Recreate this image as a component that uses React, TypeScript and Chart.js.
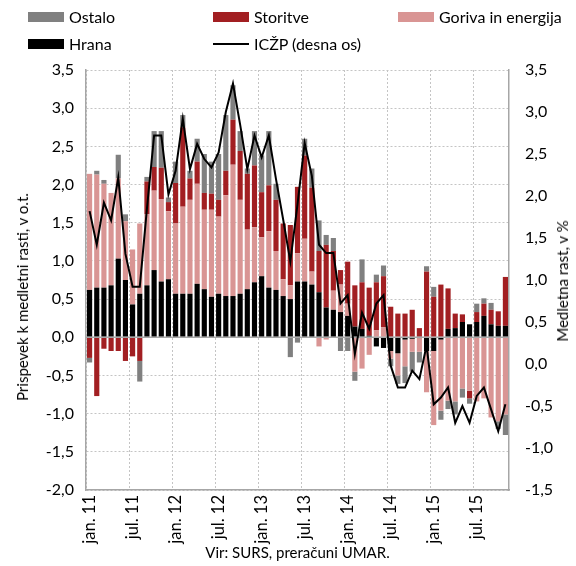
import React, { useEffect, useRef } from 'react';
import { Chart, registerables } from 'chart.js';
Chart.register(...registerables);

const categories = [
  'jan. 11','feb. 11','mar. 11','apr. 11','maj 11','jun. 11','jul. 11','avg. 11','sep. 11','okt. 11','nov. 11','dec. 11',
  'jan. 12','feb. 12','mar. 12','apr. 12','maj 12','jun. 12','jul. 12','avg. 12','sep. 12','okt. 12','nov. 12','dec. 12',
  'jan. 13','feb. 13','mar. 13','apr. 13','maj 13','jun. 13','jul. 13','avg. 13','sep. 13','okt. 13','nov. 13','dec. 13',
  'jan. 14','feb. 14','mar. 14','apr. 14','maj 14','jun. 14','jul. 14','avg. 14','sep. 14','okt. 14','nov. 14','dec. 14',
  'jan. 15','feb. 15','mar. 15','apr. 15','maj 15','jun. 15','jul. 15','avg. 15','sep. 15','okt. 15','nov. 15',
];

const hrana = [
  0.62, 0.65, 0.65, 0.68, 1.03, 0.75, 0.43, 0.57, 0.68, 0.88,
  0.73, 0.76, 0.57, 0.57, 0.57, 0.70, 0.63, 0.53, 0.57, 0.54,
  0.54, 0.57, 0.63, 0.72, 0.80, 0.65, 0.62, 0.54, 0.50, 0.73,
  0.73, 0.69, 0.59, 0.39, 0.36, 0.33, 0.28, 0.14, 0.11, 0.02,
  -0.12, -0.14, -0.18, -0.21, -0.03, -0.02, -0.01, -0.18, -0.18, -0.03,
  0.11, 0.12, 0.20, 0.17, 0.20, 0.28, 0.17, 0.15, 0.15,
];
const goriva = [
  1.52, 1.48, 1.36, 1.21, 1.05, 0.77, 0.72, 0.92, 0.93, 1.04,
  1.08, 0.89, 0.92, 1.14, 1.23, 1.31, 1.04, 1.14, 1.01, 1.32,
  1.72, 1.23, 0.78, 0.72, 0.51, 0.74, 0.51, 0.22, 0.18, 0.37,
  0.56, 0.17, -0.12, -0.03, 0.25, 0.36, 0.16, -0.45, -0.41, -0.23,
  0.09, 0.13, -0.10, -0.29, -0.35, -0.17, -0.18, -0.54, -0.97, -0.93,
  -0.83, -0.84, -0.67, -0.70, -0.84, -0.80, -1.05, -1.10, -1.01,
];
const storitve = [
  -0.27, -0.77, -0.15, -0.18, -0.18, -0.31, -0.25, -0.31, 0.43, 0.31,
  0.41, 0.12, 0.53, 1.04, 0.28, 0.29, 0.22, 0.21, 0.22, 0.32,
  0.59, 0.64, 0.73, 0.81, 0.59, 0.60, 0.67, 0.73, 0.79, 0.87,
  1.09, 1.10, 0.54, 0.82, 0.52, 0.19, 0.55, 0.54, 0.61, 0.63,
  0.63, 0.67, 0.40, 0.31, 0.31, 0.36, 0.12, 0.86, 0.53, 0.69,
  0.53, 0.19, 0.10, -0.10, 0.13, 0.16, 0.19, 0.19, 0.64,
];
const ostalo = [
  -0.06, 0.05, 0.05, 0, 0.31, 0.09, 0, -0.27, 0.06, 0.47,
  0.48, 0.06, 0.28, 0.16, 0.10, 0.30, 0.51, 0.42, 0.60, 0.73,
  0.45, 0.26, 0.07, 0.45, 0.48, 0.71, 0.21, 0, -0.26, -0.07,
  0.22, 0.25, 0.40, 0.13, 0.17, -0.18, -0.18, -0.12, 0.30, 0,
  0.10, 0.14, -0.10, -0.11, -0.22, -0.26, -0.14, 0.07, 0.13, -0.12,
  -0.11, -0.17, -0.12, -0.07, 0.11, 0.07, 0.09, -0.10, -0.27,
];
const iczp = [
  1.82, 1.42, 1.92, 1.71, 2.22, 1.31, 0.92, 0.92, 1.85, 2.72,
  2.72, 2.02, 2.30, 2.92, 2.32, 2.62, 2.44, 2.34, 2.52, 3.00,
  3.34, 2.85, 2.32, 2.72, 2.46, 2.72, 2.20, 1.72, 1.22, 1.90,
  2.63, 2.24, 1.42, 1.32, 1.32, 0.72, 0.82, 0.12, 0.61, 0.42,
  0.72, 0.82, -0.02, -0.28, -0.28, -0.08, -0.18, 0.22, -0.48, -0.40,
  -0.28, -0.70, -0.50, -0.70, -0.38, -0.28, -0.54, -0.80, -0.48,
];

const leftTitle = 'Prispevek k medletni rasti, v o.t.';
const rightTitle = 'Medletna rast, v %';
const sourceText = 'Vir: SURS, preračuni UMAR.';

const COLORS = {
  hrana: '#000000',
  goriva: '#d99594',
  storitve: '#a21f22',
  ostalo: '#808080',
};

const FONT = 'Lato, "Noto Sans", sans-serif';
const fmt = (v: number) => v.toFixed(1).replace('.', ',');

const zeroLine = {
  id: 'zeroLine',
  afterDatasetDraw(chart: any, args: any) {
    if (args.index !== 0) return;
    const y = chart.scales.y.getPixelForValue(0);
    const { left, right } = chart.chartArea;
    const ctx = chart.ctx;
    ctx.save();
    ctx.strokeStyle = '#a6a6a6';
    ctx.lineWidth = 1.5;
    ctx.beginPath();
    ctx.moveTo(left, y);
    ctx.lineTo(right, y);
    ctx.stroke();
    ctx.restore();
  },
};

function App() {
  const ref = useRef<HTMLCanvasElement>(null);
  useEffect(() => {
    if (!ref.current) return;
    const barDs = (label: string, data: number[], color: string) => ({
      type: 'bar' as const,
      label,
      data,
      backgroundColor: color,
      borderWidth: 0,
      yAxisID: 'y',
      order: 1,
      barPercentage: 0.72,
      categoryPercentage: 1,
    });
    const chart = new Chart(ref.current, {
      type: 'bar',
      data: {
        labels: categories,
        datasets: [
          barDs('Hrana', hrana, COLORS.hrana),
          barDs('Goriva in energija', goriva, COLORS.goriva),
          barDs('Storitve', storitve, COLORS.storitve),
          barDs('Ostalo', ostalo, COLORS.ostalo),
          {
            type: 'line' as const,
            label: 'ICŽP (desna os)',
            data: iczp,
            borderColor: '#000',
            borderWidth: 2,
            pointRadius: 0,
            tension: 0,
            yAxisID: 'y1',
            order: 0,
          } as any,
        ],
      },
      options: {
        responsive: false,
        animation: false,
        layout: { padding: { top: 70, left: 0, right: 0, bottom: 0 } },
        plugins: {
          legend: { display: false },
          tooltip: { enabled: false },
        },
        scales: {
          x: {
            stacked: true,
            grid: {
              color: (ctx: any) => (ctx.index % 6 === 0 ? '#c4c4c4' : 'rgba(0,0,0,0)'),
              lineWidth: 1,
              drawTicks: false,
            },
            border: { display: true, color: '#a6a6a6', width: 1.5, dash: [2, 2] },
            ticks: {
              autoSkip: false,
              minRotation: 90,
              maxRotation: 90,
              padding: 5,
              color: '#000',
              font: { family: FONT, size: 16.5 },
              callback: (_v: any, i: number) => (i % 6 === 0 ? categories[i] : ''),
            },
            title: {
              display: true,
              text: sourceText,
              color: '#000',
              font: { family: FONT, size: 15 },
              padding: { top: 0, bottom: 4 },
            },
            afterFit: (s: any) => { s.height = 76; },
          },
          y: {
            stacked: true,
            position: 'left',
            min: -2,
            max: 3.5,
            grid: { color: '#c4c4c4', lineWidth: 1, drawTicks: false },
            border: { display: true, color: '#a6a6a6', width: 1.5, dash: [2, 2] },
            ticks: {
              stepSize: 0.5,
              padding: 12,
              color: '#000',
              font: { family: FONT, size: 16 },
              callback: (v: any) => fmt(Number(v)),
            },
            afterFit: (s: any) => { s.width = 86; },
          },
          y1: {
            position: 'right',
            min: -1.5,
            max: 3.5,
            grid: { drawOnChartArea: false, drawTicks: false },
            border: { display: true, color: '#a6a6a6', width: 1.5 },
            ticks: {
              stepSize: 0.5,
              padding: 16,
              color: '#000',
              font: { family: FONT, size: 16 },
              callback: (v: any) => fmt(Number(v)),
            },
            afterFit: (s: any) => { s.width = 67; },
          },
        },
      } as any,
      plugins: [zeroLine],
    });
    return () => chart.destroy();
  }, []);

  const legendText: React.CSSProperties = {
    position: 'absolute', fontSize: 16, fontFamily: FONT, color: '#000', lineHeight: '18px', whiteSpace: 'nowrap',
  };
  const box = (x: number, y: number, color: string) => (
    <div style={{ position: 'absolute', left: x, top: y - 5, width: 36, height: 10, background: color }} />
  );
  const rot: React.CSSProperties = {
    position: 'absolute', fontSize: 15, fontFamily: FONT, color: '#000', whiteSpace: 'nowrap',
    transform: 'translate(-50%, -50%) rotate(-90deg)', lineHeight: '18px',
  };

  return (
    <div style={{ position: 'fixed', left: 0, top: 0, width: 576, height: 566, background: '#fff', overflow: 'hidden' }}>
      <canvas ref={ref} width={576} height={566} style={{ position: 'absolute', left: 0, top: 0 }} />
      {box(28, 17, COLORS.ostalo)}
      <div style={{ ...legendText, left: 69, top: 8 }}>Ostalo</div>
      {box(213, 17, COLORS.storitve)}
      <div style={{ ...legendText, left: 254, top: 8 }}>Storitve</div>
      {box(398, 17, COLORS.goriva)}
      <div style={{ ...legendText, left: 439, top: 8 }}>Goriva in energija</div>
      {box(28, 44, COLORS.hrana)}
      <div style={{ ...legendText, left: 69, top: 35 }}>Hrana</div>
      <div style={{ position: 'absolute', left: 213, top: 43, width: 36, height: 2, background: '#000' }} />
      <div style={{ ...legendText, left: 254, top: 35 }}>ICŽP (desna os)</div>
      <div style={{ ...rot, left: 22, top: 297 }}>{leftTitle}</div>
      <div style={{ ...rot, left: 562, top: 281 }}>{rightTitle}</div>
    </div>
  );
}

export default App;
